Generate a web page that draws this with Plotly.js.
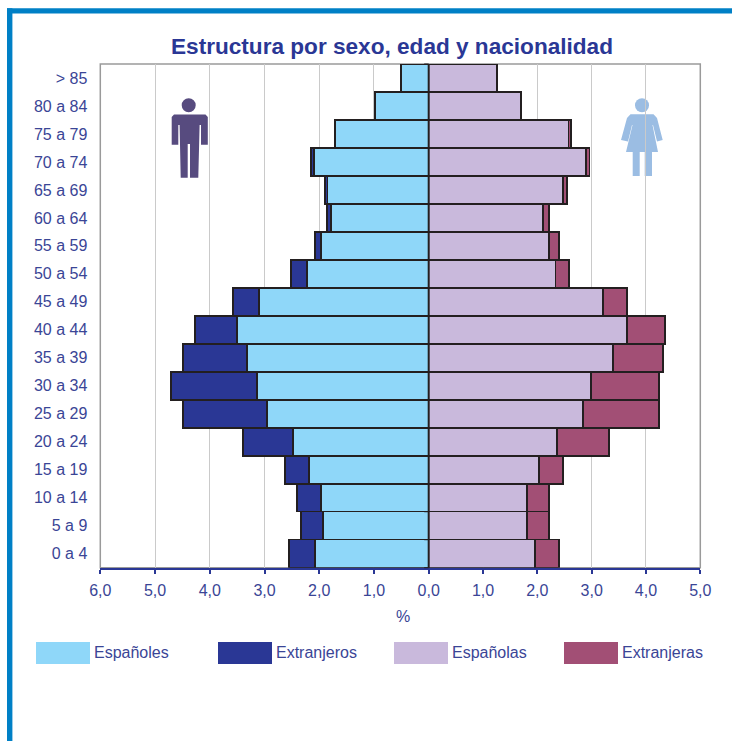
<!DOCTYPE html>
<html><head><meta charset="utf-8">
<script src="https://cdn.plot.ly/plotly-3.0.1.min.js"></script>
<style>html,body{margin:0;padding:0;background:#fff}#c{width:732px;height:741px}</style>
</head><body><div id="c"></div>
<script>
const ageGroups = ['> 85','80 a 84','75 a 79','70 a 74','65 a 69','60 a 64','55 a 59','50 a 54','45 a 49','40 a 44','35 a 39','30 a 34','25 a 29','20 a 24','15 a 19','10 a 14','5 a 9','0 a 4'];
const espanoles  = [0.51,0.98,1.71,2.10,1.85,1.785,1.97,2.22,3.10,3.50,3.32,3.14,2.955,2.48,2.19,1.97,1.93,2.08];
const extranjeros= [0,0,0,0.055,0.045,0.07,0.11,0.30,0.475,0.77,1.17,1.57,1.535,0.91,0.44,0.44,0.40,0.475];
const espanolas  = [1.26,1.70,2.57,2.90,2.47,2.105,2.215,2.33,3.21,3.65,3.39,2.99,2.84,2.36,2.03,1.81,1.81,1.96];
const extranjeras= [0,0,0.05,0.06,0.08,0.11,0.185,0.255,0.44,0.70,0.92,1.25,1.40,0.96,0.44,0.405,0.405,0.44];
const maleTicks = [-6,-5,-4,-3,-2,-1,0];
const maleTickText = ['6,0','5,0','4,0','3,0','2,0','1,0','0,0'];
const femaleTicks = [1,2,3,4,5];
const femaleTickText = ['1,0','2,0','3,0','4,0','5,0'];
const legendNames = ['Españoles','Extranjeros','Españolas','Extranjeras'];
const legendColors = ['#8fd7f9','#2a3795','#c9b9dc','#a24f75'];

const W=732,H=741, L=100.3,Z=428.7,R=700.3,T=64,B=567.7;
const px=x=>x/W, py=y=>1-y/H;
const ink='#3a4596', edge='#231f20';
const mk=c=>({color:c,line:{color:edge,width:1.5}});
const neg=a=>a.map(v=>-v);
const tr=(name,xv,ax,c)=>({type:'bar',orientation:'h',name,y:ageGroups,x:xv,xaxis:ax,yaxis:'y',marker:mk(c),hoverinfo:'name+x+y'});
const data=[
 tr(legendNames[0],neg(espanoles),'x',legendColors[0]),
 tr(legendNames[1],neg(extranjeros),'x',legendColors[1]),
 tr(legendNames[2],espanolas,'x2',legendColors[2]),
 tr(legendNames[3],extranjeras,'x2',legendColors[3])
];
const rect=(x0,y0,x1,y1,fill,layer)=>({type:'rect',xref:'paper',yref:'paper',x0:px(x0),x1:px(x1),y0:py(y0),y1:py(y1),fillcolor:fill,line:{width:0},layer:layer||'below'});
const P=(pts)=>'M'+pts.map(p=>px(p[0])+','+py(p[1])).join('L')+'Z';
const path=(pts,c)=>({type:'path',xref:'paper',yref:'paper',path:P(pts),fillcolor:c,line:{width:0},layer:'below'});
const circ=(cx,cy,r,c)=>({type:'circle',xref:'paper',yref:'paper',x0:px(cx-r),x1:px(cx+r),y0:py(cy+r),y1:py(cy-r),fillcolor:c,line:{width:0},layer:'below'});
const shapes=[
 rect(7,8.3,W,13.4,'#0080c6','above'),
 rect(7,8.3,12.4,H,'#0080c6','above'),
 {type:'rect',xref:'paper',yref:'paper',x0:px(L),x1:px(R),y0:py(B),y1:py(T),line:{color:'#9a9a9a',width:1.5},fillcolor:'rgba(0,0,0,0)',layer:'below'},
 rect(168,99,212,180,'#fff'),
 rect(620,99,664,180,'#fff'),
 circ(188.7,105.3,7,'#574b7f'),
 path([[174,114.5],[205.5,114.5],[207.8,117],[207.8,144.7],[201,144.7],[201,125],[199.6,125],[198.3,177.7],[190,177.7],[190,144],[187.7,144],[187.7,177.7],[180.7,177.7],[179.6,125],[178.3,125],[178.3,144.7],[171.7,144.7],[171.7,117]],'#574b7f'),
 circ(642,105.3,7,'#9bbde3'),
 path([[630.5,114.3],[653.5,114.3],[657,118],[662.7,140],[657,141.5],[653,125],[652.5,125],[658,152],[652,152],[652,176],[644.7,176],[644.7,152],[639.7,152],[639.7,176],[632.7,176],[632.7,152],[626,152],[632.5,125],[632,125],[628,141.5],[621,140],[627,118]],'#9bbde3'),
 {type:'line',xref:'paper',yref:'paper',x0:px(Z),x1:px(Z),y0:py(T),y1:py(B),line:{color:edge,width:2},layer:'above'}
];
for(let i=0;i<=18;i++){const y=T+i*(B-T)/18;shapes.push({type:'line',xref:'paper',yref:'paper',x0:px(Z-4.5),x1:px(Z),y0:py(y),y1:py(y),line:{color:edge,width:1}});}
const swatchX=[36,218,394,564];
const annotations=[{xref:'paper',yref:'paper',x:px(403),y:py(616),text:'%',showarrow:false,font:{family:'Liberation Sans',size:16,color:ink},xanchor:'center',yanchor:'middle'}];
legendNames.forEach((n,i)=>{
 shapes.push(rect(swatchX[i],642,swatchX[i]+54,664,legendColors[i],'above'));
 annotations.push({xref:'paper',yref:'paper',x:px(swatchX[i]+58),y:py(652.5),text:n,showarrow:false,font:{family:'Liberation Sans',size:16,color:ink},xanchor:'left',yanchor:'middle',xshift:-2});
});
const xa=(dom,rng,tv,tt,extra)=>Object.assign({domain:dom,range:rng,tickmode:'array',tickvals:tv,ticktext:tt,showgrid:true,gridcolor:'#cacaca',gridwidth:1,zeroline:false,showline:true,linecolor:'#2a3795',linewidth:2,ticks:'outside',ticklen:4,tickcolor:'#2a3795',tickwidth:2,tickfont:{family:'Liberation Sans',size:16,color:ink},ticklabelstandoff:3,anchor:'y'},extra||{});
const layout={
 width:W,height:H,margin:{l:0,r:0,t:0,b:0,pad:0},paper_bgcolor:'#fff',plot_bgcolor:'rgba(0,0,0,0)',
 showlegend:false,barmode:'stack',bargap:0,
 title:{text:'<b>Estructura por sexo, edad y nacionalidad</b>',x:px(392),y:py(46),xanchor:'center',yanchor:'middle',font:{family:'Liberation Sans',size:22.6,color:'#2a3795'}},
 xaxis:xa([px(L),px(Z)],[-6,0],maleTicks,maleTickText),
 xaxis2:xa([px(Z),px(R)],[0,5],femaleTicks,femaleTickText),
 yaxis:{domain:[py(B),py(T)],type:'category',categoryorder:'array',categoryarray:ageGroups,range:[17.5,-0.5],showgrid:false,zeroline:false,showline:false,ticks:'',tickfont:{family:'Liberation Sans',size:16,color:ink},ticklabelstandoff:12,anchor:'x'},
 shapes,annotations
};
Plotly.newPlot('c',data,layout,{displayModeBar:false,staticPlot:true});
</script></body></html>
